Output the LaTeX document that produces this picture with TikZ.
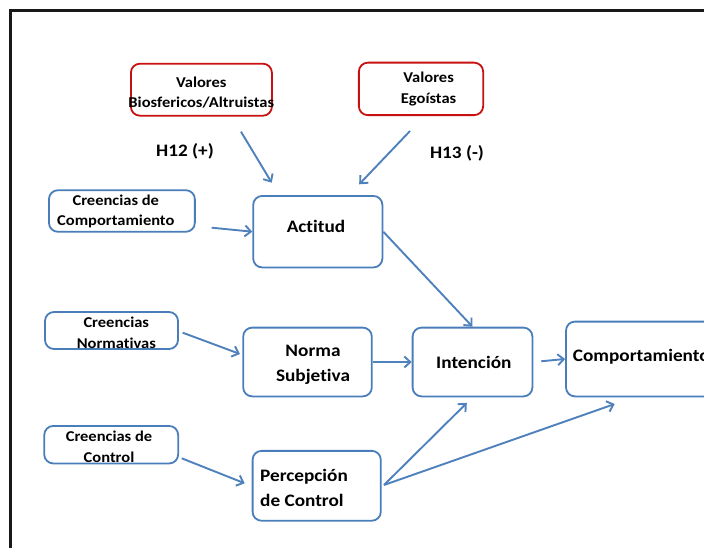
\documentclass[tikz,border=0pt]{standalone}
\usepackage{fontspec}
\setmainfont[FakeStretch=1.1, Ligatures=NoCommon]{Carlito}
\usetikzlibrary{arrows.meta}
\definecolor{boxblue}{RGB}{74,126,187}
\definecolor{arrblue}{RGB}{79,129,189}
\definecolor{boxred}{RGB}{200,16,16}
\begin{document}
\begin{tikzpicture}[x=1pt,y=-1pt,
  bbox/.style={draw=boxblue, line width=1.8pt, rounded corners=9pt, fill=white, inner sep=0pt},
  rbox/.style={draw=boxred, line width=1.8pt, rounded corners=9pt, fill=white, inner sep=0pt},
  stxt/.style={font=\bfseries\fontsize{15}{20.5}\selectfont, align=center, inner sep=0pt},
  mtxt/.style={font=\bfseries\fontsize{17.5}{25}\selectfont, align=center, inner sep=0pt},
  conn/.style={draw=arrblue, line width=1.9pt, -{Straight Barb[length=6pt,width=11pt]}}
]
\clip (0,0) rectangle (704,548);
\useasboundingbox (0,0) rectangle (704,548);
\fill[white] (0,0) rectangle (704,548);
\draw[line width=2.5pt, black!90] (10.3,10.5) rectangle (760,600);

% boxes
\node[rbox, minimum width=141pt, minimum height=52pt] (vba) at (201.4,89.7) {};
\node[rbox, minimum width=124.3pt, minimum height=52.5pt] (veg) at (421,88.9) {};
\node[bbox, minimum width=145.9pt, minimum height=41.6pt] (cbc) at (121.9,211) {};
\node[bbox, minimum width=129.2pt, minimum height=71.5pt] (act) at (317.8,231.7) {};
\node[bbox, minimum width=133pt, minimum height=37pt] (cn) at (111.5,330.5) {};
\node[bbox, minimum width=128.6pt, minimum height=68.8pt] (ns) at (307.5,362) {};
\node[bbox, minimum width=119.8pt, minimum height=68.8pt] (int) at (472.5,362) {};
\node[bbox, minimum width=147pt, minimum height=74.8pt] (comp) at (639.5,359) {};
\node[bbox, minimum width=133.9pt, minimum height=37.5pt] (cc) at (111.2,444.7) {};
\node[bbox, minimum width=128.2pt, minimum height=69.9pt] (pc) at (316.7,485.8) {};

% texts
\node[stxt] (vbat) at (201.3,92.5) {Valores\\Biosfericos/Altruistas};
\node[stxt] (vegt) at (428.6,89) {Valores\\Egoístas};
\node[mtxt] (h12) at (185,151.7) {H12 (+)};
\node[mtxt] (h13) at (457,153.3) {H13 (-)};
\node[stxt] (cbct) at (115.8,211.2) {Creencias de\\Comportamiento};
\node[mtxt] (actt) at (316,226.7) {Actitud};
\node[stxt] (cnt) at (116.3,332.7) {Creencias\\Normativas};
\node[mtxt] (nst) at (313,365) {Norma\\Subjetiva};
\node[mtxt] (intt) at (473.8,362.7) {Intención};
\node[mtxt, anchor=west] (compt) at (572.7,356.7) {Comportamiento};
\node[stxt] (cct) at (109,447) {Creencias de\\Control};
\node[mtxt, anchor=west, align=left] (pct) at (260,487.5) {Percepción\\de Control};

% connector ends
\coordinate (a1s) at (241,131.7);
\coordinate (a1e) at (271.7,182.7);
\coordinate (a2s) at (410,131);
\coordinate (a2e) at (359.2,184.3);
\coordinate (a3s) at (211.7,227.7);
\coordinate (a5s) at (182.7,332.7);
\coordinate (a5e) at (240,354);
\coordinate (a8s) at (181.7,458.3);
\coordinate (a8e) at (244.7,483.3);
\coordinate (a9s) at (384,485);
\coordinate (a10e) at (614.7,404);

% connectors
\draw[conn] (a1s) -- (a1e);
\draw[conn] (a2s) -- (a2e);
\draw[conn] (a3s) -- (act.west);
\draw[conn] (act.east) -- (int.north);
\draw[conn] (a5s) -- (a5e);
\draw[conn] (ns.east) -- (int.west);
\draw[conn, shorten <=8pt] (int.east) -- (comp.west);
\draw[conn] (a8s) -- (a8e);
\draw[conn, shorten >=8pt] (a9s) -- (int.south);
\draw[conn] (a9s) -- (a10e);
\end{tikzpicture}
\end{document}
